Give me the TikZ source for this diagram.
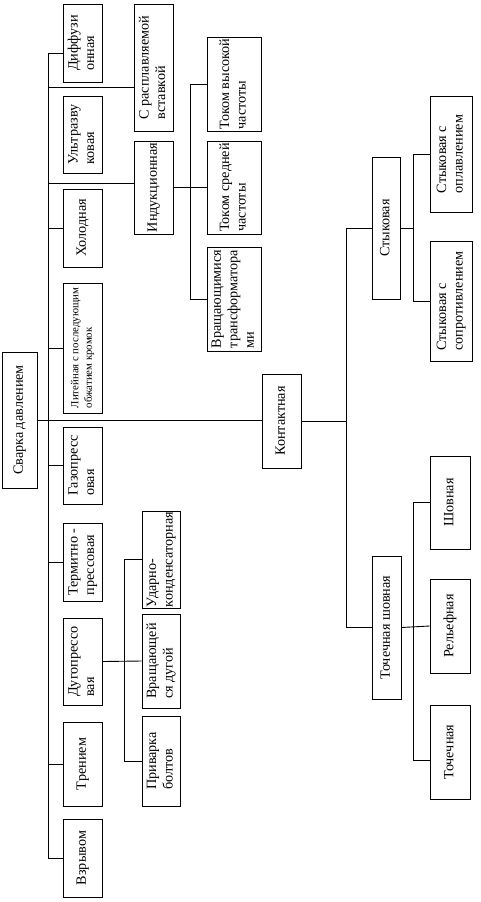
\documentclass[tikz,border=0pt]{standalone}
\usepackage{graphicx}
\usepackage{fontspec}
\setmainfont{Liberation Serif}
\usetikzlibrary{calc}
\tikzset{
  box/.style={draw, line width=0.9pt, inner sep=0pt, font=\fontsize{14.2}{16.5}\selectfont},
  smallbox/.style={box, font=\fontsize{10.8}{13.5}\selectfont},
  link/.style={line width=0.9pt}
}
\newcommand\bx[7][box]{%
  \node[#1, minimum width={(#4)-(#2)}, minimum height={(#5)-(#3)}] (#6)
    at ({((#2)+(#4))/2},{((#3)+(#5))/2})
    {\rotatebox{90}{\begin{tabular}{@{}l@{}}#7\end{tabular}}};}
\begin{document}
\begin{tikzpicture}[x=1pt,y=-1pt]
\useasboundingbox (0,0) rectangle (480,902);
% level 0 and 1
\bx{2}{352}{37}{488}{root}{Сварка давлением}
\bx{63}{4}{102}{82}{diff}{Диффузи\\онная}
\bx{63}{96}{102}{173}{ultra}{Ультразву\\ковая}
\bx{63}{189}{102}{267}{hol}{Холодная}
\bx[smallbox]{63}{283}{102}{413}{lit}{Литейная с последующим\\обжатием кромок}
\bx{63}{427}{102}{504}{gaz}{Газопресс\\овая}
\bx{63}{523}{102}{601}{term}{Термитно -\\прессовая}
\bx{63}{618}{102}{705}{dug}{Дугопрессо\\вая}
\bx{63}{722}{102}{806}{tren}{Трением}
\bx{63}{819}{102}{897}{vzr}{Взрывом}
% second column
\bx{134}{4}{173}{131}{rasp}{С расплавляемой\\вставкой}
\bx{134}{141}{173}{234}{ind}{Индукционная}
\bx{142}{511}{180}{608}{udar}{Ударно-\\конденсаторная}
\bx{142}{614}{180}{708}{vrdug}{Вращающей\\ся дугой}
\bx{142}{716}{180}{806}{priv}{Приварка\\болтов}
% third column
\bx{207}{37}{261}{131}{tvch}{Током высокой\\частоты}
\bx{207}{141}{261}{234}{tsch}{Током средней\\частоты}
\bx{207}{247}{261}{351}{vrtr}{Вращающимися\\трансформатора\\ми}
% contact branch
\bx{262}{374}{301}{468}{kont}{Контактная}
\bx{372}{157}{400}{299}{styk}{Стыковая}
\bx{430}{96}{472}{212}{stopl}{Стыковая с\\оплавлением}
\bx{430}{241}{472}{361}{stsopr}{Стыковая с\\сопротивлением}
\bx{372}{556}{401}{699}{tsh}{Точечная шовная}
\bx{430}{456}{470}{549}{shov}{Шовная}
\bx{430}{579}{470}{673}{relef}{Рельефная}
\bx{430}{705}{470}{799}{toch}{Точечная}
% bus coordinates
\coordinate (sp) at (48,0);
\coordinate (b1) at (190,0);
\coordinate (b2) at (124,0);
\coordinate (b3) at (346,0);
\coordinate (b4) at (413,0);
\coordinate (cdiff) at ([yshift=-10pt]diff.west);
\coordinate (crasp) at ([yshift=-20pt]rasp.west);
\coordinate (cind) at ([yshift=4pt]ind.west);
\coordinate (ctoch) at ([yshift=-8pt]toch.west);
% connectors
\draw[link] (sp |- cdiff) -- (sp |- vzr.west);
\draw[link] (root.east) -- (root.east -| kont.west);
\draw[link] (sp |- cdiff) -- (cdiff);
\draw[link] (sp |- crasp) -- (crasp);
\draw[link] (sp |- cind) -- (cind);
\draw[link] (sp |- hol.west) -- (hol.west);
\draw[link] (sp |- lit.west) -- (lit.west);
\draw[link] (sp |- gaz.west) -- (gaz.west);
\draw[link] (sp |- term.west) -- (term.west);
\draw[link] (sp |- tren.west) -- (tren.west);
\draw[link] (sp |- vzr.west) -- (vzr.west);
% induction
\draw[link] (ind.east) -- (tsch.west);
\draw[link] (b1 |- tvch.west) -- (b1 |- vrtr.west);
\draw[link] (b1 |- tvch.west) -- (tvch.west);
\draw[link] (b1 |- vrtr.west) -- (vrtr.west);
% arc press
\draw[link] (dug.east) -- (vrdug.west);
\draw[link] (b2 |- udar.west) -- (b2 |- priv.west);
\draw[link] (b2 |- udar.west) -- (udar.west);
\draw[link] (b2 |- priv.west) -- (priv.west);
% contact
\draw[link] (kont.east) -- (b3 |- kont.east);
\draw[link] (b3 |- styk.west) -- (b3 |- tsh.west);
\draw[link] (b3 |- styk.west) -- (styk.west);
\draw[link] (b3 |- tsh.west) -- (tsh.west);
\draw[link] (styk.east) -- (b4 |- styk.east);
\draw[link] (b4 |- stopl.west) -- (b4 |- stsopr.west);
\draw[link] (b4 |- stopl.west) -- (stopl.west);
\draw[link] (b4 |- stsopr.west) -- (stsopr.west);
\draw[link] (tsh.east) -- (relef.west);
\draw[link] (b4 |- shov.west) -- (b4 |- ctoch);
\draw[link] (b4 |- shov.west) -- (shov.west);
\draw[link] (b4 |- ctoch) -- (ctoch);
\end{tikzpicture}
\end{document}
